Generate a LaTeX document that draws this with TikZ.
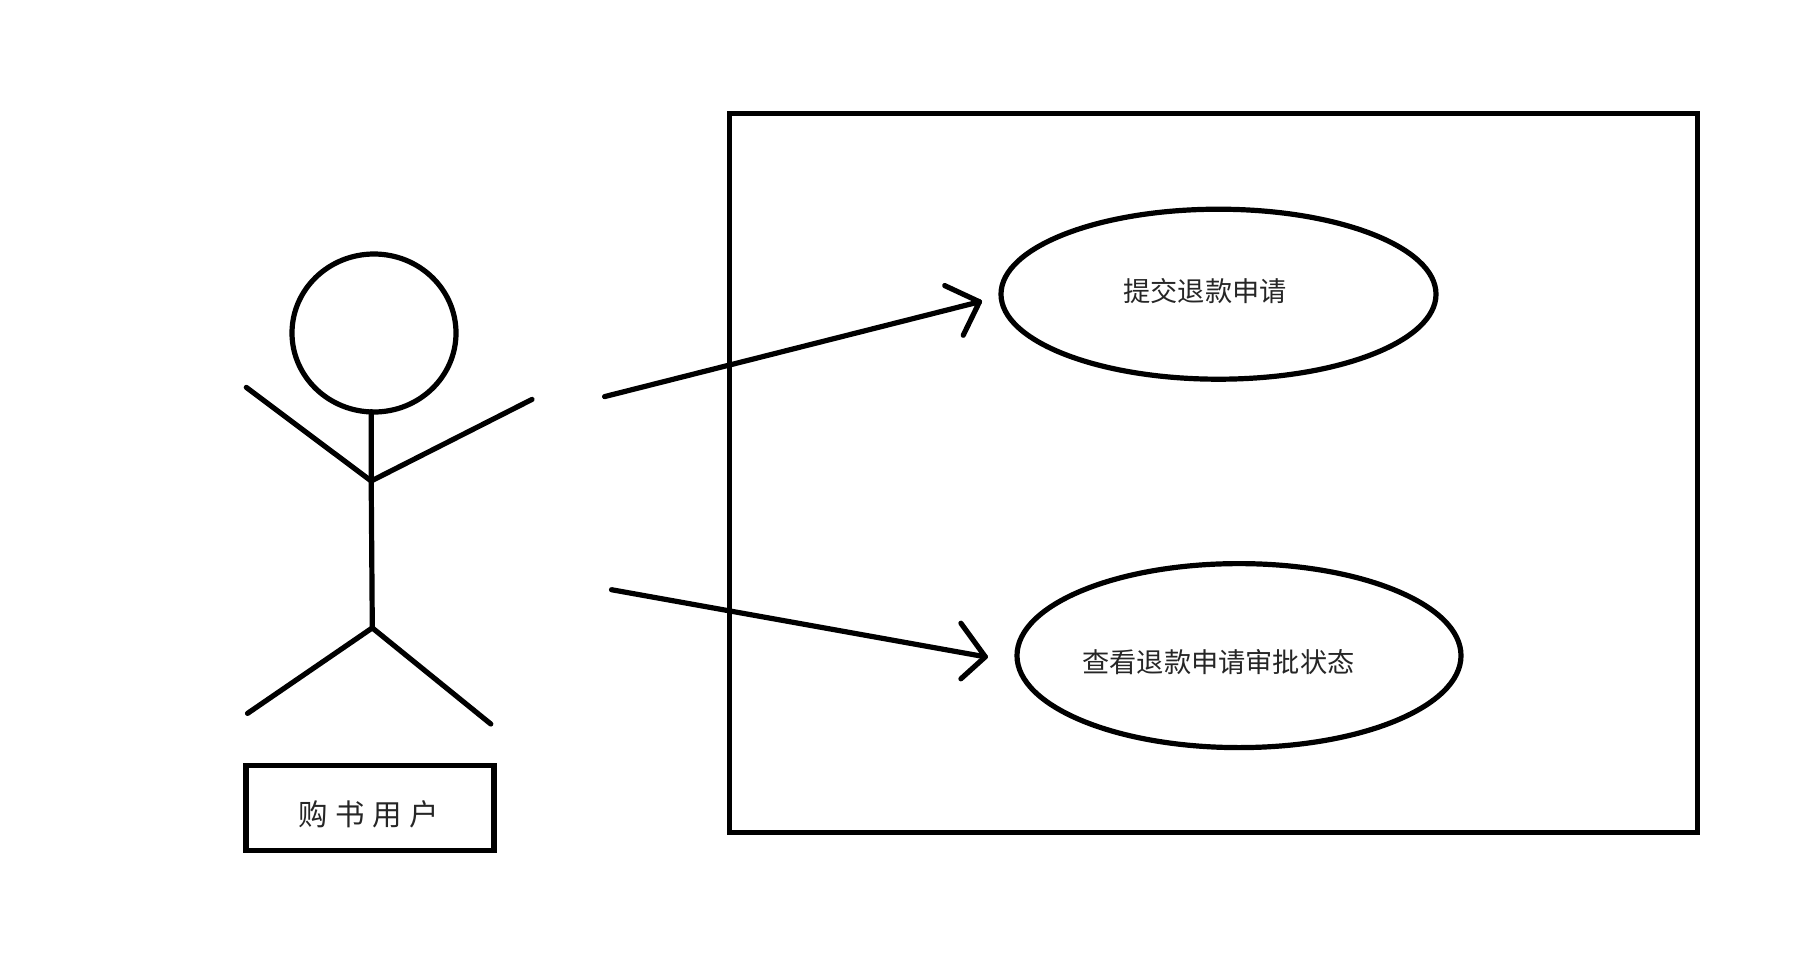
\documentclass[tikz,border=0pt]{standalone}
\usepackage{fontspec}
\usetikzlibrary{shapes.geometric}
\newfontfamily\cjk{Noto Sans CJK SC}
\tikzset{
  ink/.style={line width=5.2pt,draw=black,line cap=round,line join=round},
  boxink/.style={line width=5.4pt,draw=black,line join=miter,rectangle,inner sep=0pt},
  usecase/.style={ink,ellipse,inner sep=0pt},
  cjktext/.style={text=black!85,inner sep=0pt,font=\cjk\fontsize{27.2}{30}\selectfont},
}
\begin{document}
\begin{tikzpicture}[x=1pt,y=-1pt]
\useasboundingbox[fill=white] (0,0) rectangle (1813,972);
% system frame
\node[boxink,minimum width=968pt,minimum height=719pt] (frame) at (1213.3,473.2) {};
% use cases
\node[usecase,minimum width=435pt,minimum height=170pt] (uc1) at (1218.5,294.2) {};
\node[usecase,minimum width=444pt,minimum height=184pt] (uc2) at (1239,655.6) {};
\node[cjktext] (t1) at (1205,291) {提交退款申请};
\node[cjktext] (t2) at (1218.5,662.5) {查看退款申请审批状态};
% actor
\node[usecase,minimum width=164pt,minimum height=158pt] (head) at (374,333) {};
\coordinate (neck) at (371.2,411.6);
\coordinate (hip0) at (371.2,481);
\coordinate (crotch) at (372.3,627.9);
\coordinate (handL) at (246.3,387.4);
\coordinate (handR) at (532,399.4);
\coordinate (footL) at (247.5,713.4);
\coordinate (footR) at (490.8,724);
\draw[ink] (neck) -- (hip0) -- (crotch);
\draw[ink] (handL) -- (hip0) -- (handR);
\draw[ink] (footL) -- (crotch) -- (footR);
% actor label
\node[boxink,minimum width=248pt,minimum height=85pt] (box) at (369.8,808) {};
\node[cjktext,font=\cjk\fontsize{29.5}{30}\selectfont] (name) at (368.5,814) {购\hspace{7.5pt}书\hspace{7.5pt}用\hspace{7.5pt}户};
% arrows
\coordinate (a1s) at (604.6,396.6);
\coordinate (a1e) at (979.5,301.8);
\coordinate (a1u) at (944.7,285.6);
\coordinate (a1d) at (963.2,335.3);
\coordinate (a2s) at (611.5,589.7);
\coordinate (a2e) at (985.3,656.8);
\coordinate (a2u) at (960.9,623.2);
\coordinate (a2d) at (960.9,678.8);
\draw[ink] (a1s) -- (a1e);
\draw[ink] (a1u) -- (a1e) -- (a1d);
\draw[ink] (a2s) -- (a2e);
\draw[ink] (a2u) -- (a2e) -- (a2d);
\end{tikzpicture}
\end{document}
